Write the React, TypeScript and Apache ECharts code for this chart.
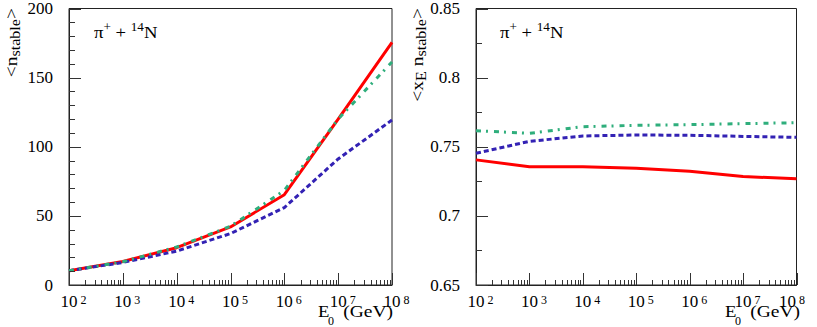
import React, { useEffect, useRef } from "react";
import * as echarts from "echarts";

// Beam energies E0 (GeV)
const energies = [1e2, 1e3, 1e4, 1e5, 1e6, 1e7, 1e8];

// Left panel: <n_stable>
const nRed = [10.3, 17.0, 27.0, 42.0, 65.3, 120.0, 175.5];
const nGreen = [10.3, 16.8, 27.5, 42.5, 68.4, 120.0, 161.3];
const nBlue = [10.3, 16.3, 24.5, 37.2, 56.0, 91.2, 119.3];

// Right panel: <x_E n_stable>
const xRed = [0.7405, 0.7355, 0.7355, 0.7345, 0.7323, 0.7285, 0.7268];
const xGreen = [0.7616, 0.7597, 0.7645, 0.7655, 0.766, 0.7667, 0.7674];
const xBlue = [0.7453, 0.7539, 0.7578, 0.7585, 0.7583, 0.7575, 0.7568];

// Axis ticks
const leftYTicks = [0, 50, 100, 150, 200];
const leftYMinor = [10, 20, 30, 40, 60, 70, 80, 90, 110, 120, 130, 140, 160, 170, 180, 190];
const rightYTicks = [0.65, 0.7, 0.75, 0.8, 0.85];
const rightYMinor = [0.675, 0.725, 0.775, 0.825];
const xMajor = [1e2, 1e3, 1e4, 1e5, 1e6, 1e7, 1e8];
const decades = [1e2, 1e3, 1e4, 1e5, 1e6, 1e7];
const mults = [2, 3, 4, 5, 6, 7, 8, 9];

const FONT = "Liberation Serif";
const RED = "#ff0000";
const GREEN = "#2fae7c";
const BLUE = "#3322b4";
const FRAME = "#222222";
const TICK = "#333333";

const minorE: number[] = [];
decades.forEach((d) => mults.forEach((m) => minorE.push(d * m)));

function xAxis(gridIndex: number, shiftLast: boolean) {
  return {
    type: "log",
    logBase: 10,
    gridIndex,
    min: xMajor[0],
    max: xMajor[xMajor.length - 1],
    splitNumber: 6,
    position: "bottom",
    axisLine: { show: true, lineStyle: { color: FRAME, width: 1 } },
    splitLine: { show: false },
    axisTick: { show: false },
    axisLabel: {
      show: true,
      margin: 9,
      color: "#000",
      fontFamily: FONT,
      customValues: xMajor,
      formatter: (v: number) => {
        const e = Math.round(Math.log10(v));
        return e === 8 && shiftLast ? `{b|10}{sl|${e}}` : `{bp|10}{s|${e}}`;
      },
      rich: {
        b: { fontSize: 17, lineHeight: 14, fontFamily: FONT, color: "#000" },
        bp: { fontSize: 17, lineHeight: 14, fontFamily: FONT, color: "#000", padding: [0, 0, 0, 9] },
        s: { fontSize: 12, lineHeight: 8, fontFamily: FONT, color: "#000", verticalAlign: "top", padding: [0, 0, 0, 3] },
        sl: { fontSize: 12, lineHeight: 8, fontFamily: FONT, color: "#000", verticalAlign: "top", padding: [0, 9, 0, 3] },
      },
    },
  };
}

function yAxis(gridIndex: number, ticks: number[], fmt: (v: number) => string) {
  return {
    type: "value",
    gridIndex,
    min: ticks[0],
    max: ticks[ticks.length - 1],
    interval: ticks[1] - ticks[0],
    position: "left",
    axisLine: { show: true, lineStyle: { color: FRAME, width: 1 } },
    splitLine: { show: false },
    axisTick: { show: false },
    axisLabel: { margin: 16, color: "#000", fontFamily: FONT, fontSize: 17, customValues: ticks, formatter: fmt },
  };
}

// Tick marks drawn through the axes' scales with a custom series
function xTickSeries(axisIndex: number, yBase: number) {
  const data = [...xMajor.map((v) => [v, yBase, 12]), ...minorE.map((v) => [v, yBase, 5])];
  return {
    type: "custom",
    xAxisIndex: axisIndex,
    yAxisIndex: axisIndex,
    clip: false,
    silent: true,
    z: 4,
    encode: { x: 0, y: 1 },
    data,
    renderItem: (_p: any, api: any) => {
      const pt = api.coord([api.value(0), api.value(1)]);
      const len = Number(api.value(2)) || 5;
      const x = Math.round(pt[0]) + 0.5;
      return {
        type: "line",
        shape: { x1: x, y1: pt[1], x2: x, y2: pt[1] - len },
        style: { stroke: TICK, lineWidth: 1 },
      };
    },
  };
}

function yTickSeries(axisIndex: number, major: number[], minor: number[]) {
  const data = [...major.map((v) => [xMajor[0], v, 12]), ...minor.map((v) => [xMajor[0], v, 6])];
  return {
    type: "custom",
    xAxisIndex: axisIndex,
    yAxisIndex: axisIndex,
    clip: false,
    silent: true,
    z: 4,
    encode: { x: 0, y: 1 },
    data,
    renderItem: (_p: any, api: any) => {
      const pt = api.coord([api.value(0), api.value(1)]);
      const len = Number(api.value(2)) || 6;
      const y = Math.round(pt[1]) + 0.5;
      return {
        type: "line",
        shape: { x1: pt[0], y1: y, x2: pt[0] + len, y2: y },
        style: { stroke: TICK, lineWidth: 1 },
      };
    },
  };
}

function lineSeries(name: string, ai: number, ys: number[], color: string, type: any) {
  return {
    name,
    type: "line",
    xAxisIndex: ai,
    yAxisIndex: ai,
    data: energies.map((e, i) => [e, ys[i]]),
    showSymbol: false,
    symbol: "none",
    lineStyle: { color, width: 3, type },
    clip: true,
    z: 3,
  };
}

const supRich = {
  b: { fontSize: 17, fontFamily: FONT, color: "#000" },
  s: { fontSize: 12, fontFamily: FONT, color: "#000", padding: [0, 0, 10, 0] },
  sub: { fontSize: 14, fontFamily: FONT, color: "#000", padding: [9, 0, 0, 0] },
};

function xTitle(right: number) {
  return [
    {
      type: "text",
      x: right - 75,
      y: 311,
      scaleX: 1.1,
      style: { text: "E", font: `17px "${FONT}"`, fill: "#000", align: "left", verticalAlign: "middle" },
    },
    {
      type: "text",
      x: right - 65,
      y: 321,
      style: { text: "0", font: `12px "${FONT}"`, fill: "#000", align: "left", verticalAlign: "middle" },
    },
    {
      type: "text",
      x: right,
      y: 311,
      scaleX: 1.15,
      style: { text: "(GeV)", font: `17px "${FONT}"`, fill: "#000", align: "right", verticalAlign: "middle" },
    },
  ];
}

export default function App() {
  const ref = useRef<HTMLDivElement>(null);
  useEffect(() => {
    document.body.style.margin = "0";
    if (!ref.current) return;
    const chart = echarts.init(ref.current, undefined, { renderer: "svg" });
    const dashed = [5, 3];
    const dashDot = [5, 5, 2, 6];
    chart.setOption({
      animation: false,
      backgroundColor: "#ffffff",
      grid: [
        { left: 69, top: 7, width: 323, height: 278, show: true, borderColor: FRAME, borderWidth: 1, backgroundColor: "rgba(0,0,0,0)" },
        { left: 476, top: 7, width: 323, height: 278, show: true, borderColor: FRAME, borderWidth: 1, backgroundColor: "rgba(0,0,0,0)" },
      ],
      xAxis: [xAxis(0, false), xAxis(1, true)],
      yAxis: [
        yAxis(0, leftYTicks, (v) => String(Math.round(v))),
        yAxis(1, rightYTicks, (v) => String(Math.round(v * 100) / 100)),
      ],
      series: [
        xTickSeries(0, leftYTicks[0]),
        yTickSeries(0, leftYTicks, leftYMinor),
        xTickSeries(1, rightYTicks[0]),
        yTickSeries(1, rightYTicks, rightYMinor),
        lineSeries("red-n", 0, nRed, RED, "solid"),
        lineSeries("blue-n", 0, nBlue, BLUE, dashed),
        lineSeries("green-n", 0, nGreen, GREEN, dashDot),
        lineSeries("red-x", 1, xRed, RED, "solid"),
        lineSeries("blue-x", 1, xBlue, BLUE, dashed),
        lineSeries("green-x", 1, xGreen, GREEN, dashDot),
      ],
      graphic: [
        {
          type: "text",
          x: 94,
          y: 32,
          scaleX: 1.1,
          style: { text: "{b|π}{s|+}{b| + }{s|14}{b|N}", rich: supRich, verticalAlign: "middle", align: "left" },
        },
        {
          type: "text",
          x: 500,
          y: 32,
          scaleX: 1.1,
          style: { text: "{b|π}{s|+}{b| + }{s|14}{b|N}", rich: supRich, verticalAlign: "middle", align: "left" },
        },
        {
          type: "text",
          x: 11,
          y: 8,
          rotation: Math.PI / 2,
          scaleX: 1.15,
          style: { text: "{b|<n}{sub|stable}{b|>}", rich: supRich, verticalAlign: "middle", align: "right" },
        },
        {
          type: "text",
          x: 417,
          y: 8,
          rotation: Math.PI / 2,
          scaleX: 1.15,
          style: { text: "{b|<x}{sub|E}{b| n}{sub|stable}{b|>}", rich: supRich, verticalAlign: "middle", align: "right" },
        },
        ...xTitle(393),
        ...xTitle(800),
      ],
    });
    return () => chart.dispose();
  }, []);
  return <div ref={ref} style={{ width: 817, height: 327 }} />;
}
